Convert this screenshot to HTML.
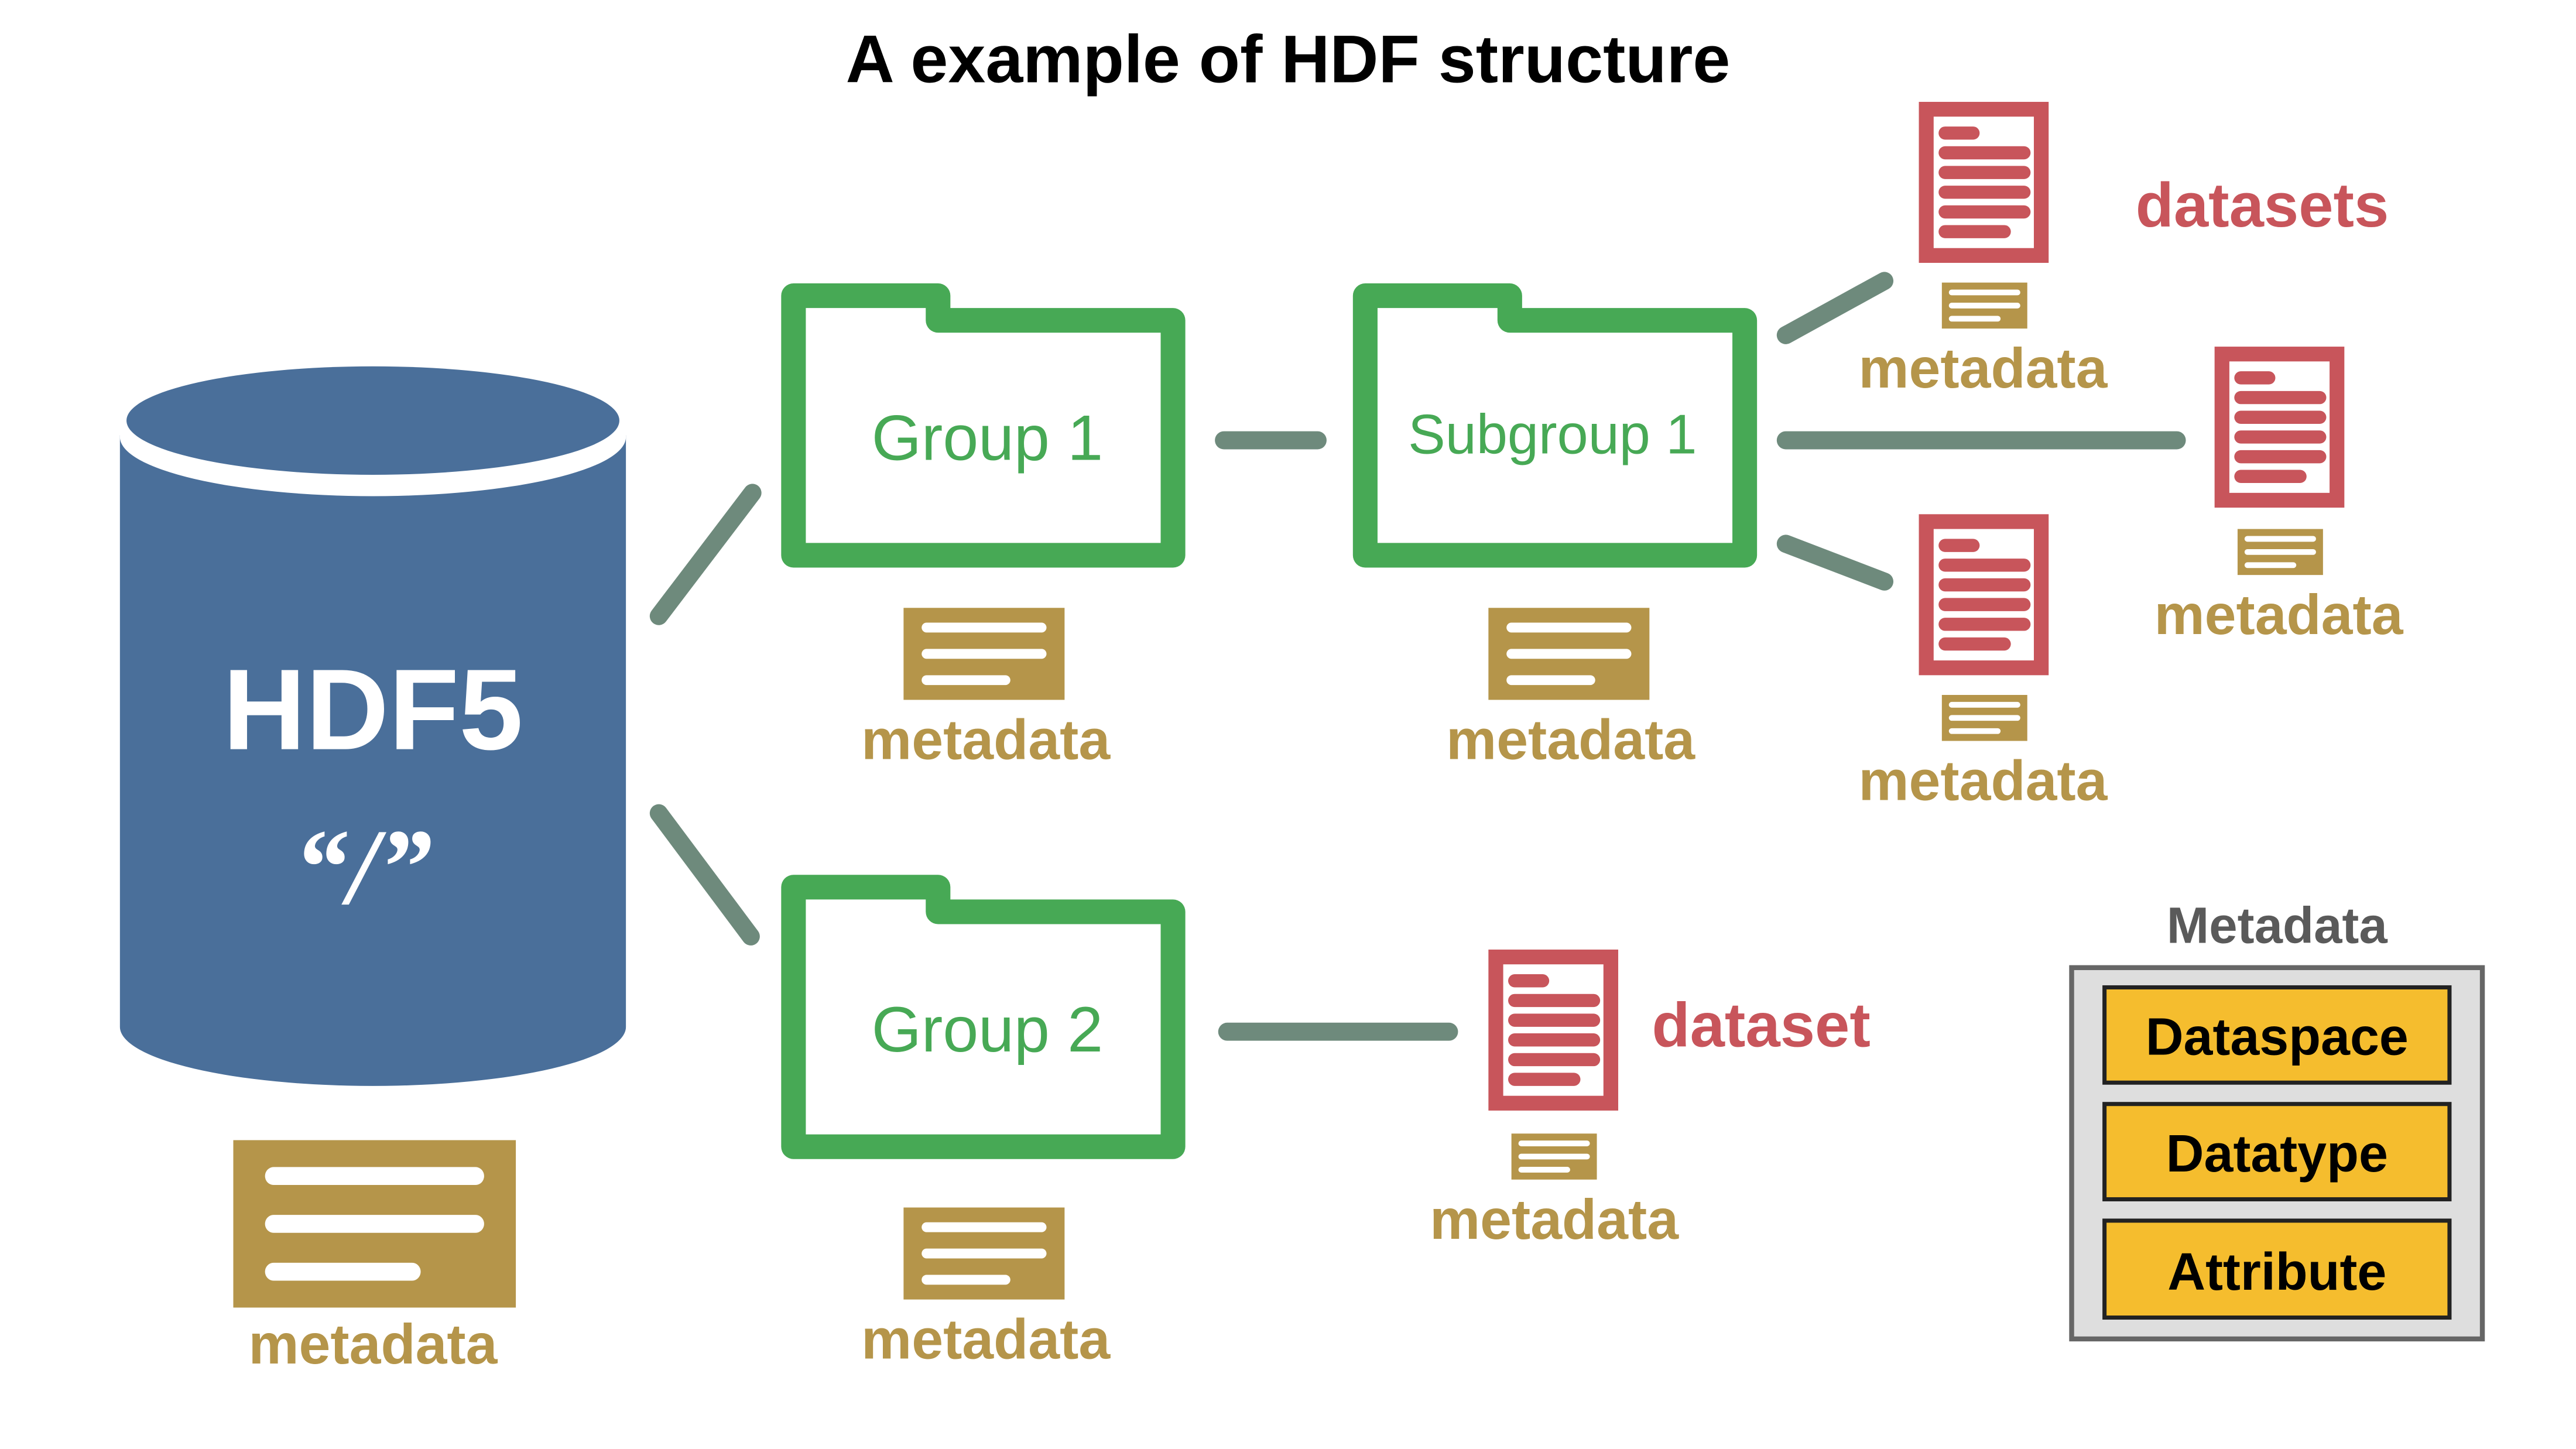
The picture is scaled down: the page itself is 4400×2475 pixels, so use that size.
<!DOCTYPE html>
<html><head><meta charset="utf-8"><style>html,body{margin:0;padding:0;background:#fff}svg{display:block}</style></head>
<body>
<svg width="4400" height="2475" viewBox="0 0 1568 882" xmlns="http://www.w3.org/2000/svg">
<defs>
<g id="doc">
<rect x="4.5" y="4.5" width="70" height="89" fill="#fff" stroke="#c8555b" stroke-width="9"/>
<g stroke="#c8555b" stroke-width="8" stroke-linecap="round">
<line x1="16" y1="19" x2="33" y2="19"/><line x1="16" y1="31" x2="64" y2="31"/><line x1="16" y1="43" x2="64" y2="43"/><line x1="16" y1="55" x2="64" y2="55"/><line x1="16" y1="67" x2="64" y2="67"/><line x1="16" y1="79" x2="52" y2="79"/>
</g></g>
<g id="meta">
<rect x="0" y="0" width="98" height="56" fill="#b5954a"/>
<g stroke="#fff" stroke-width="6" stroke-linecap="round"><line x1="14" y1="12" x2="84" y2="12"/><line x1="14" y1="28" x2="84" y2="28"/><line x1="14" y1="44" x2="62" y2="44"/></g>
</g>
<g id="smeta">
<rect x="0" y="0" width="52" height="28" fill="#b5954a"/>
<g stroke="#fff" stroke-width="3.5" stroke-linecap="round"><line x1="6" y1="6" x2="46" y2="6"/><line x1="6" y1="14" x2="46" y2="14"/><line x1="6" y1="22" x2="34" y2="22"/></g>
</g>
<path id="folder" d="M0,158 L0,0 L88,0 L88,15 L231,15 L231,158 Z" fill="#fff" stroke="#47a955" stroke-width="15" stroke-linejoin="round"/>
</defs>
<text x="784" y="50" text-anchor="middle" font-family="Liberation Sans, sans-serif" font-weight="bold" font-size="41" fill="#000">A example of HDF structure</text>

<path d="M73,265 L73,625 A154,36 0 0 0 381,625 L381,265 Z" fill="#4a6f9a"/>
<ellipse cx="227" cy="266" rx="154" ry="36" fill="#fff"/>
<ellipse cx="227" cy="256" rx="150" ry="33" fill="#4a6f9a"/>
<text x="227" y="456" text-anchor="middle" font-family="Liberation Sans, sans-serif" font-weight="bold" font-size="70" fill="#fff">HDF5</text>
<text x="221" y="550" text-anchor="middle" font-family="Liberation Serif, serif" font-weight="bold" font-style="italic" font-size="66" fill="#fff">“/”</text>
<use href="#meta" transform="translate(142,694) scale(1.755,1.82)"/>

<g stroke="#6e8a7c" stroke-width="11" stroke-linecap="round">
<line x1="401" y1="375" x2="458" y2="300"/>
<line x1="401" y1="495" x2="457" y2="570"/>
<line x1="745" y1="268" x2="802" y2="268"/>
<line x1="1087" y1="204" x2="1147" y2="171"/>
<line x1="1087" y1="268" x2="1325" y2="268"/>
<line x1="1087" y1="331" x2="1147" y2="354"/>
<line x1="747" y1="628" x2="882" y2="628"/>
</g>

<use href="#folder" transform="translate(483,180)"/>
<use href="#folder" transform="translate(831,180)"/>
<use href="#folder" transform="translate(483,540)"/>
<g font-family="Liberation Sans, sans-serif" fill="#47a955" text-anchor="middle">
<text x="601" y="280" font-size="39">Group 1</text>
<text x="945" y="276" font-size="34">Subgroup 1</text>
<text x="601" y="640" font-size="39">Group 2</text>
</g>

<use href="#meta" transform="translate(550,370)"/>
<use href="#meta" transform="translate(906,370)"/>
<use href="#meta" transform="translate(550,735)"/>
<use href="#smeta" transform="translate(1182,172)"/>
<use href="#smeta" transform="translate(1362,322)"/>
<use href="#smeta" transform="translate(1182,423)"/>
<use href="#smeta" transform="translate(920,690)"/>

<use href="#doc" transform="translate(1168,62)"/>
<use href="#doc" transform="translate(1348,211)"/>
<use href="#doc" transform="translate(1168,313)"/>
<use href="#doc" transform="translate(906,578)"/>

<g font-family="Liberation Sans, sans-serif" font-weight="bold" font-size="34.5" fill="#b5954a" text-anchor="middle">
<text x="600" y="462">metadata</text>
<text x="956" y="462">metadata</text>
<text x="1207" y="236">metadata</text>
<text x="1387" y="386">metadata</text>
<text x="1207" y="487">metadata</text>
<text x="946" y="754">metadata</text>
<text x="600" y="827">metadata</text>
<text x="227" y="830">metadata</text>
</g>
<g font-family="Liberation Sans, sans-serif" font-weight="bold" font-size="38" fill="#c8555b">
<text x="1377" y="138" text-anchor="middle">datasets</text>
<text x="1072" y="637" text-anchor="middle">dataset</text>
</g>

<text x="1386" y="574" text-anchor="middle" font-family="Liberation Sans, sans-serif" font-weight="bold" font-size="31" fill="#5a5a5a">Metadata</text>
<rect x="1261" y="589" width="250" height="226" fill="#dedede" stroke="#666" stroke-width="3"/>
<g fill="#f5bd2e" stroke="#222" stroke-width="2.5">
<rect x="1281" y="601" width="210" height="58"/>
<rect x="1281" y="672" width="210" height="58"/>
<rect x="1281" y="743" width="210" height="59"/>
</g>
<g font-family="Liberation Sans, sans-serif" font-weight="bold" font-size="32" fill="#000" text-anchor="middle">
<text x="1386" y="642">Dataspace</text>
<text x="1386" y="713">Datatype</text>
<text x="1386" y="785">Attribute</text>
</g>
</svg>
</body></html>
